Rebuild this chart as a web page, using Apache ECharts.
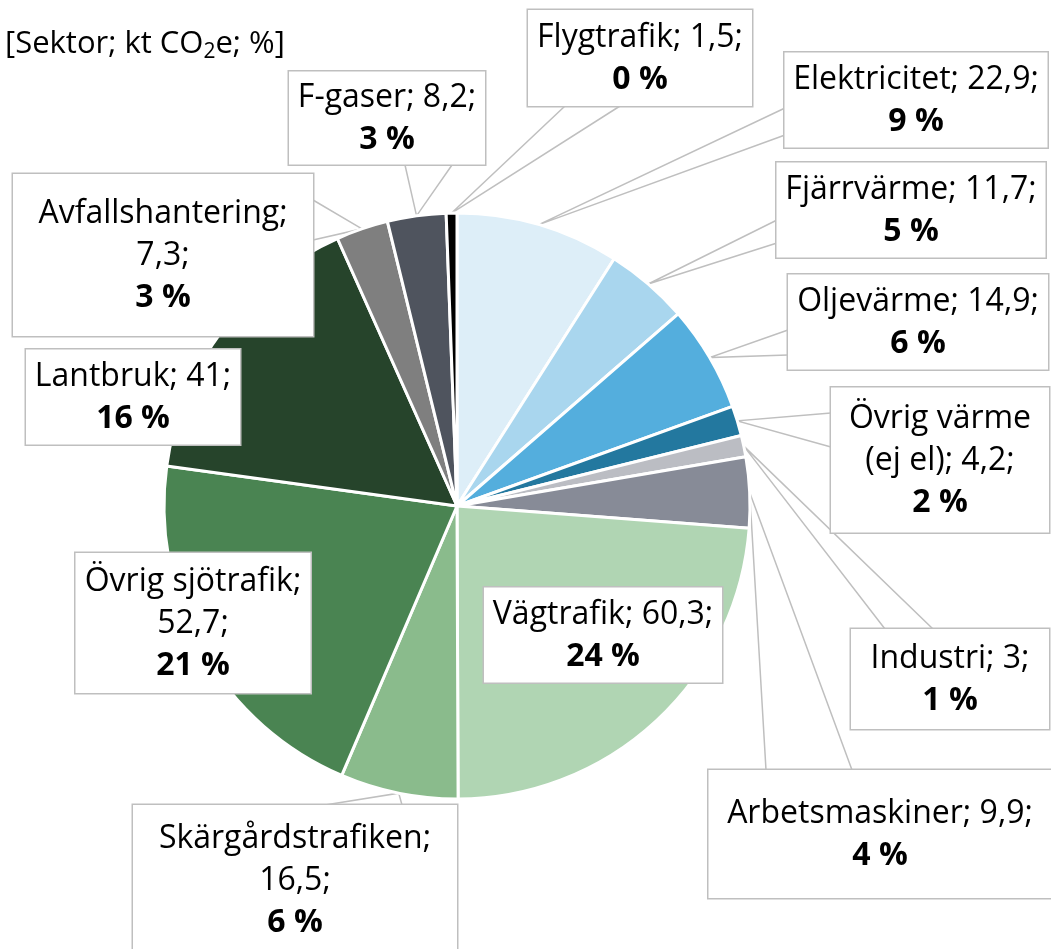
<!DOCTYPE html>
<html>
<head>
<meta charset="utf-8">
<script src="https://cdn.jsdelivr.net/npm/echarts@6/dist/echarts.min.js"></script>
<style>
  html, body { margin: 0; padding: 0; background: #fff; }
  #chart { width: 1051px; height: 949px; }
</style>
</head>
<body>
<div id="chart"></div>
<script>
// ---- Data ----
const categories = [
  'Elektricitet', 'Fjärrvärme', 'Oljevärme', 'Övrig värme (ej el)', 'Industri',
  'Arbetsmaskiner', 'Vägtrafik', 'Skärgårdstrafiken', 'Övrig sjötrafik',
  'Lantbruk', 'Avfallshantering', 'F-gaser', 'Flygtrafik'
];
const values = [22.9, 11.7, 14.9, 4.2, 3, 9.9, 60.3, 16.5, 52.7, 41, 7.3, 8.2, 1.5];

// ---- Styling / layout (kept apart from data) ----
const colors = [
  '#ddeef8', '#a9d6ee', '#54aedd', '#23789f', '#bbbdc3',
  '#878b97', '#b0d5b3', '#8abb8c', '#4a8452',
  '#26442b', '#7f7f7f', '#4f545e', '#000000'
];
// how each label wraps: 0 = "name; value;\npct", 1 = "name;\nvalue;\npct", 2 = split name
const wrapMode = [0, 0, 0, 2, 0, 0, 0, 1, 1, 0, 1, 0, 0];
// label box centres and sizes
const labelPos = [
  [916, 100], [911, 210], [918, 322], [940, 460], [950, 679],
  [880, 834], [603, 635], [295, 880], [193, 623],
  [133, 397], [163, 255], [387, 118], [640, 58]
];
const boxW = [263, 269, 260, 218, 198, 343, 238, 324, 235, 214, 300, 196, 224];
const boxH = [95, 95, 95, 145, 100, 128, 95, 150, 140, 95, 162, 93, 96];
// callout wedge base points, relative to the label box centre (null = no pointer)
const wedgeBase = [
  [[-131, 8], [-131, 35]],
  [[-134, 10], [-134, 33]],
  [[-130, 8], [-130, 33]],
  [[-109, -47], [-109, -13]],
  [[-65, -50], [-17, -50]],
  [[-114, -64], [-28, -64]],
  null,
  [[30, -75], [107, -75]],
  null,
  null,
  [[150, -55], [150, -15]],
  [[18, 47], [65, 47]],
  [[-75, 48], [-20, 48]]
];
const lineH = 42;
const fontPx = 32;

function fmtNum(v) { return String(v).replace('.', ','); }
function nLines(i) { return wrapMode[i] === 0 ? 2 : 3; }

const data = categories.map((c, i) => {
  const pv = Math.max(0, (boxH[i] - nLines(i) * lineH) / 2);
  return {
    name: c,
    value: values[i],
    itemStyle: { color: colors[i] },
    label: { width: boxW[i], padding: [pv + 1, 0, pv - 1, 0] },
    labelLine: { show: wedgeBase[i] !== null }
  };
});

const chart = echarts.init(document.getElementById('chart'), null, { renderer: 'canvas' });
chart.setOption({
  animation: false,
  backgroundColor: '#fff',
  title: {
    text: '[Sektor; kt CO{sub|2}e; %]',
    left: 0, top: 18,
    textStyle: {
      fontFamily: 'Open Sans', fontSize: 31, fontWeight: 'normal', color: '#000',
      lineHeight: 42,
      rich: {
        sub: { fontFamily: 'Open Sans', fontSize: 21, color: '#000', padding: [16, 0, 0, 0], lineHeight: 42 }
      }
    }
  },
  series: [{
    type: 'pie',
    center: [457, 506],
    radius: 293,
    startAngle: 90,
    clockwise: true,
    avoidLabelOverlap: false,
    percentPrecision: 0,
    itemStyle: { borderColor: '#fff', borderWidth: 3 },
    label: {
      show: true,
      position: 'outside',
      fontFamily: 'Open Sans',
      fontSize: fontPx,
      lineHeight: lineH,
      color: '#000',
      align: 'center',
      backgroundColor: '#fff',
      borderColor: '#bfbfbf',
      borderWidth: 1.5,
      formatter: function (p) {
        const i = p.dataIndex;
        const v = fmtNum(p.value);
        const pct = '{b|' + p.percent + ' %}';
        if (wrapMode[i] === 1) return p.name + ';\n' + v + ';\n' + pct;
        if (wrapMode[i] === 2) return 'Övrig värme\n(ej el); ' + v + ';\n' + pct;
        return p.name + '; ' + v + ';\n' + pct;
      },
      rich: {
        b: { fontFamily: 'Open Sans', fontSize: fontPx, lineHeight: lineH, fontWeight: 'bold', color: '#000' }
      }
    },
    labelLine: {
      show: true,
      length: 20, length2: 0,
      smooth: false,
      lineStyle: { color: '#bfbfbf', width: 1.5 }
    },
    labelLayout: function (params) {
      const i = params.dataIndex;
      const p = labelPos[i];
      const out = { x: p[0], y: p[1], align: 'center', verticalAlign: 'middle', hideOverlap: false, moveOverlap: null };
      const wb = wedgeBase[i];
      if (wb && params.labelLinePoints && params.labelLinePoints.length) {
        const tip = params.labelLinePoints[0];
        out.labelLinePoints = [
          [p[0] + wb[0][0], p[1] + wb[0][1]],
          [tip[0], tip[1]],
          [p[0] + wb[1][0], p[1] + wb[1][1]]
        ];
      }
      return out;
    },
    data: data
  }]
});
</script>
</body>
</html>
